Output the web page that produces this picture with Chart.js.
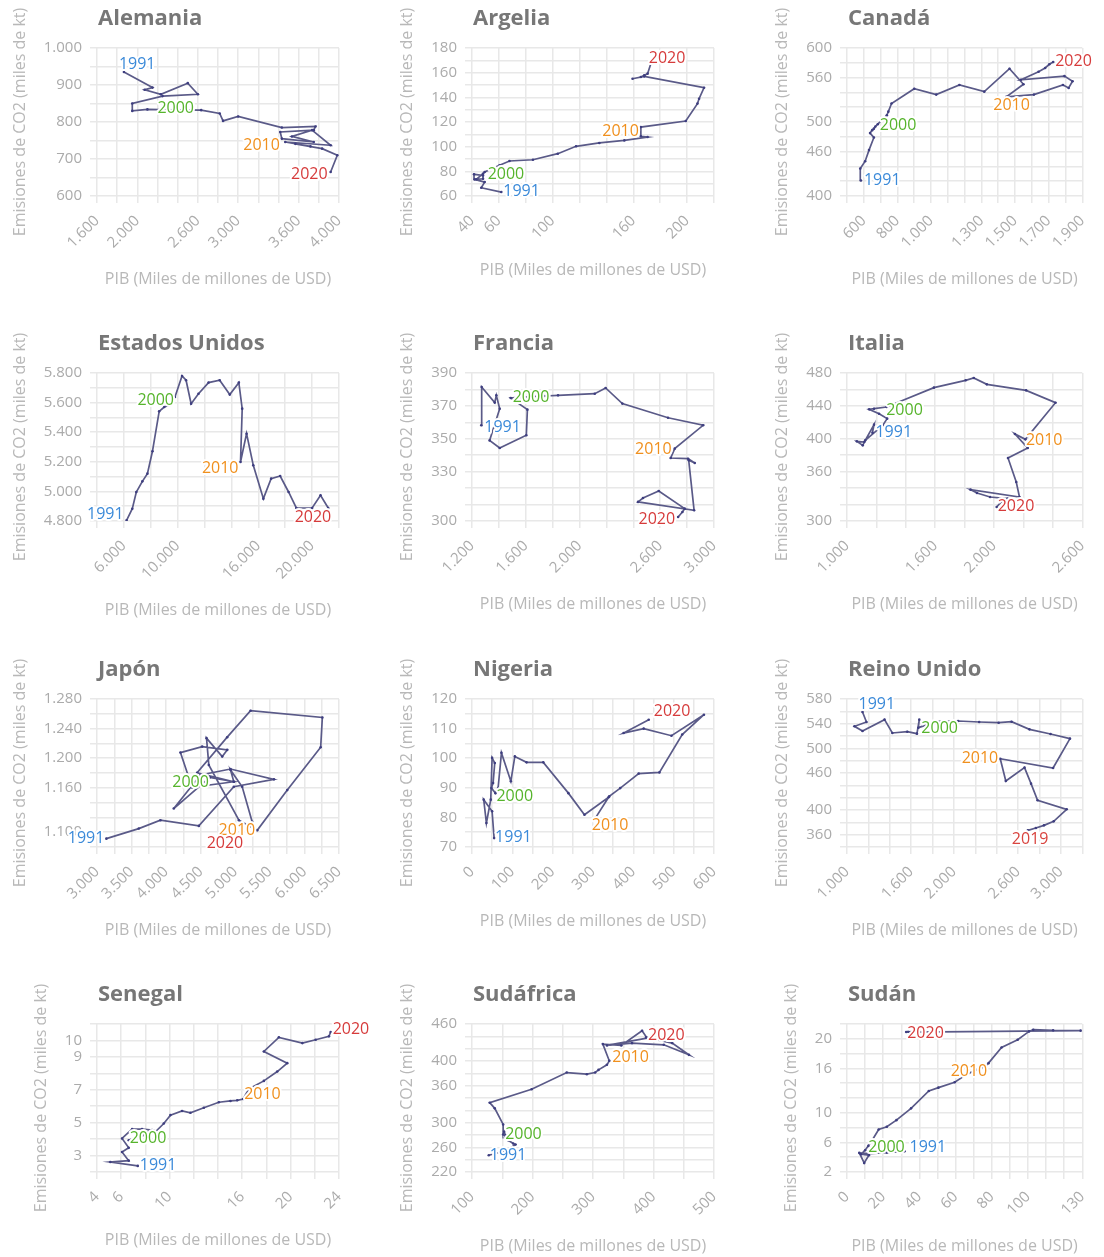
<!DOCTYPE html>
<html lang="es">
<head>
<meta charset="utf-8">
<title>Emisiones de CO2 y PIB</title>
<script src="https://cdn.jsdelivr.net/npm/chart.js@4.4.1/dist/chart.umd.min.js"></script>
<style>
  html, body { margin: 0; padding: 0; background: #fff; }
  #wrap { position: relative; width: 1104px; height: 1257px; overflow: hidden; }
  canvas { position: absolute; }
</style>
</head>
<body>
<div id="wrap"></div>
<script>
// años de la serie
var years = [1991, 1992, 1993, 1994, 1995, 1996, 1997, 1998, 1999, 2000,
             2001, 2002, 2003, 2004, 2005, 2006, 2007, 2008, 2009, 2010,
             2011, 2012, 2013, 2014, 2015, 2016, 2017, 2018, 2019, 2020];

// PIB (miles de millones de USD) y CO2 (miles de kt) por país
var pibAlemania = [1867, 2150, 2073, 2233, 2500, 2600, 2250, 1950, 1950, 2100, 2367, 2633, 2817, 2850, 3000, 3433, 3767, 3750, 3417, 3433, 3750, 3533, 3733, 3917, 3467, 3717, 3567, 3833, 3983, 3917];
var co2Alemania = [935, 893, 887, 875, 905, 875, 870, 850, 830, 834, 833, 832, 823, 803, 815, 785, 788, 778, 773, 755, 746, 761, 778, 737, 746, 734, 741, 728, 710, 665];

var pibArgelia = [61.8, 46.9, 49.4, 42, 41.5, 48.2, 48.2, 43.2, 48.2, 49.4, 60.5, 67.9, 85.3, 103.8, 117.4, 134.7, 153.3, 170.6, 165.6, 165.6, 199, 207.7, 208.9, 212.6, 168.1, 159.4, 165.6, 168.1, 170.6, 173];
var co2Argelia = [63.2, 66.7, 71.3, 73.5, 77.6, 76.7, 74, 73.5, 78.1, 79.4, 84.9, 88.4, 89.4, 94.3, 100.3, 103, 105.1, 107.8, 108.4, 115.9, 120.8, 134.9, 138.9, 147.8, 157, 155.1, 156.5, 157.8, 159.2, 167.3];

var pibCanada = [583, 579, 608, 631, 660, 637, 650, 660, 669, 683, 737, 746, 765, 900, 1031, 1169, 1317, 1467, 1550, 1448, 1612, 1785, 1819, 1842, 1794, 1535, 1640, 1679, 1704, 1727];
var co2Canada = [421, 437, 447, 462, 479, 485, 489, 491, 494, 497, 509, 514, 525, 545, 537, 550, 541, 572, 551, 534, 537, 550, 546, 555, 562, 557, 568, 573, 578, 581];

var pibEEUU = [6200, 6625, 6925, 7375, 7750, 8125, 8625, 9000, 9375, 9800, 10325, 10625, 11000, 11550, 12300, 13125, 13875, 14550, 14800, 14675, 15125, 15625, 16375, 16950, 17625, 18250, 18825, 20000, 20625, 21200];
var co2EEUU = [4805, 4883, 4996, 5068, 5120, 5271, 5541, 5570, 5582, 5638, 5780, 5751, 5593, 5660, 5735, 5751, 5654, 5735, 5559, 5199, 5390, 5176, 4951, 5086, 5104, 4996, 4888, 4888, 4974, 4888];

var pibFrancia = [1269, 1272, 1369, 1381, 1406, 1331, 1406, 1604, 1612, 1488, 1641, 1741, 1840, 2113, 2194, 2318, 2658, 2919, 2708, 2678, 2807, 2857, 2812, 2852, 2435, 2472, 2589, 2782, 2765, 2733];
var co2Francia = [358.2, 381.5, 372, 376.4, 368.3, 349, 344.4, 352.1, 367.7, 374.8, 375.6, 376, 376.4, 377.4, 380.9, 371.4, 362.8, 358.2, 344, 338.3, 337.9, 335.3, 336.9, 306.5, 311.6, 314, 318.2, 307.5, 305.5, 302.4];

var pibItalia = [1173, 1184, 1118, 1067, 1107, 1124, 1244, 1273, 1218, 1151, 1184, 1269, 1591, 1807, 1862, 1951, 2218, 2418, 2213, 2142, 2229, 2095, 2151, 2173, 1840, 1884, 1973, 2091, 2051, 2018];
var co2Italia = [407.4, 417.2, 396.1, 396.9, 392, 398.1, 416.4, 424.5, 430.5, 435.8, 436.6, 438.6, 462.2, 471.1, 473.9, 466.2, 458.9, 443.9, 399.3, 405.8, 388.8, 376.6, 347.4, 329.2, 338.1, 334.1, 329.2, 327.2, 323.9, 317];

var pibJapon = [3135, 3604, 3917, 4473, 4979, 5559, 4931, 4497, 4110, 4632, 4979, 4376, 4207, 4521, 4883, 4811, 4584, 4617, 5052, 5317, 5752, 6235, 6259, 5221, 4883, 4448, 4979, 4931, 5100, 5245];
var co2Japon = [1091.3, 1104.9, 1116.2, 1108.5, 1161.4, 1171.4, 1185.4, 1177.3, 1132, 1174.1, 1168.2, 1160.5, 1207.6, 1215.7, 1211.2, 1202.2, 1227.1, 1190.9, 1116.2, 1102.6, 1156.9, 1214.8, 1255.1, 1264.2, 1228.4, 1180.4, 1168.2, 1184.1, 1161.4, 1113.9];

var pibNigeria = [54.8, 49.8, 29, 35.7, 46.5, 49.8, 56.4, 52.3, 48.1, 58.1, 64.7, 73, 96.3, 106.2, 135.3, 176.8, 239, 278.8, 338.6, 307, 340.3, 367.6, 413.3, 464.7, 521.2, 575.1, 494.6, 425.7, 376, 438.2];
var co2Nigeria = [73, 82.1, 86, 78.1, 86, 100.1, 98.4, 91.6, 89.9, 88.2, 89.9, 101.8, 92.2, 100.6, 98.6, 98.6, 88.2, 80.9, 86.8, 80, 87.1, 89.9, 94.8, 95.2, 108, 114.7, 107.6, 110, 108.5, 113];

// Reino Unido: la serie termina en 2019
var pibReinoUnido = [1145, 1182, 1070, 1145, 1351, 1424, 1564, 1654, 1676, 1667, 1842, 2039, 2236, 2418, 2539, 2706, 2903, 3085, 2927, 2433, 2485, 2660, 2721, 2782, 3054, 2933, 2842, 2766, 2691];
var co2ReinoUnido = [558.9, 542.7, 535.7, 528.1, 546.5, 524.9, 527, 523.8, 546.5, 533.5, 543.8, 544.3, 542.7, 541.6, 543.2, 530.8, 523.2, 515.7, 468.1, 483.2, 447, 468.7, 442.7, 415.7, 401.1, 381.6, 375.1, 370.8, 367];

var pibSenegal = [7.37, 5.1, 6.62, 6.07, 6.62, 6.07, 6.9, 7.72, 8.55, 6.62, 8.83, 9.52, 10.07, 11.03, 11.72, 12.83, 14.07, 15.03, 15.59, 16.08, 16.55, 17.79, 18.9, 19.72, 17.79, 19.03, 20.97, 22.07, 23.17, 23.31];
var co2Senegal = [2.37, 2.61, 2.69, 3.22, 3.47, 4.04, 4.61, 4.61, 4.55, 3.93, 4.44, 4.95, 5.46, 5.71, 5.6, 5.91, 6.24, 6.32, 6.36, 6.44, 7.05, 7.54, 8.11, 8.62, 9.33, 10.19, 9.84, 10.04, 10.25, 10.51];

var pibSudafrica = [127.7, 148.7, 162.5, 171.9, 168.1, 159.8, 154.2, 155.3, 153.1, 151.5, 151.5, 137.6, 129.3, 198.5, 256.6, 289.8, 303.6, 309.1, 323, 326.9, 316.3, 346.8, 381.1, 389.4, 323, 364.5, 417, 458.5, 430.9, 387.7];
var co2Sudafrica = [247.1, 252.6, 258, 264.5, 266.1, 271.6, 275.4, 279.7, 285.2, 280.8, 297.1, 323.2, 332.4, 354.1, 381.3, 378.6, 381.3, 385.6, 393.8, 400.3, 427.4, 425.2, 449.1, 437.2, 425.2, 429, 426.3, 410, 429, 438.3];

var pibSudan = [31.8, 22, 12.1, 6.8, 9.5, 12.1, 7.7, 10, 11.8, 13.9, 17.5, 22, 27.3, 35.4, 45.2, 50.5, 59.5, 65.7, 71.1, 76.4, 78.2, 85.4, 94.3, 100.6, 102.9, 113.9, 129.1, 35.4, 33.9, 32.7];
var co2Sudan = [4.8, 4.62, 4.49, 4.58, 3.22, 4.26, 4.4, 4.94, 5.53, 6.3, 7.75, 8.11, 9.01, 10.6, 12.95, 13.4, 14.13, 15.12, 15.8, 16.25, 16.71, 18.83, 19.87, 21, 21.23, 21.14, 21.1, 20.91, 20.96, 20.91];

// etiquetas de los ejes
var xTicksAlemania = [1600, 2000, 2600, 3000, 3600, 4000];
var yTicksAlemania = [600, 700, 800, 900, 1000];
var xTicksArgelia = [40, 60, 100, 160, 200];
var yTicksArgelia = [60, 80, 100, 120, 140, 160, 180];
var xTicksCanada = [600, 800, 1000, 1300, 1500, 1700, 1900];
var yTicksCanada = [400, 460, 500, 560, 600];
var xTicksEEUU = [6000, 10000, 16000, 20000];
var yTicksEEUU = [4800, 5000, 5200, 5400, 5600, 5800];
var xTicksFrancia = [1200, 1600, 2000, 2600, 3000];
var yTicksFrancia = [300, 330, 350, 370, 390];
var xTicksItalia = [1000, 1600, 2000, 2600];
var yTicksItalia = [300, 360, 400, 440, 480];
var xTicksJapon = [3000, 3500, 4000, 4500, 5000, 5500, 6000, 6500];
var yTicksJapon = [1100, 1160, 1200, 1240, 1280];
var xTicksNigeria = [0, 100, 200, 300, 400, 500, 600];
var yTicksNigeria = [70, 80, 90, 100, 110, 120];
var xTicksReinoUnido = [1000, 1600, 2000, 2600, 3000];
var yTicksReinoUnido = [360, 400, 460, 500, 540, 580];
var xTicksSenegal = [4, 6, 10, 16, 20, 24];
var yTicksSenegal = [3, 5, 7, 9, 10];
var xTicksSudafrica = [100, 200, 300, 400, 500];
var yTicksSudafrica = [220, 260, 300, 360, 400, 460];
var xTicksSudan = [0, 20, 40, 60, 80, 100, 130];
var yTicksSudan = [2, 6, 10, 16, 20];

var yearColors = { 1991: '#3b8ad9', 2000: '#56b42c', 2010: '#f0901e', 2019: '#d9443f', 2020: '#d63b3b' };
var LINE = '#5a5a88', DOT = '#3e3e80', GRID = '#e8e8e8', TICK = '#ababab', AXT = '#b8b8b8';
var rowTops = [0, 325, 651, 976];

// notas: [año, dx, dy, alineación]
var panels = [
  { name: 'Alemania', pib: pibAlemania, co2: co2Alemania, xr: [1600, 4000, 200], yr: [600, 1000, 50], xl: xTicksAlemania, yl: yTicksAlemania,
    notes: [[1991, -5, -8, 'left'], [2000, 10, -1, 'left'], [2010, -2, 7, 'right'], [2020, -3, 2, 'right']] },
  { name: 'Argelia', pib: pibArgelia, co2: co2Argelia, xr: [40, 220, 20], yr: [60, 180, 10], xl: xTicksArgelia, yl: yTicksArgelia,
    notes: [[1991, 2, -1, 'left'], [2000, 3, 2, 'left'], [2010, -2, 4, 'right'], [2020, -2, -5, 'left']] },
  { name: 'Canadá', pib: pibCanada, co2: co2Canada, xr: [500, 1900, 100], yr: [400, 600, 20], xl: xTicksCanada, yl: yTicksCanada,
    notes: [[1991, 3, 0, 'left'], [2000, 2, 1, 'left'], [2010, -13, 9, 'left'], [2020, 2, -1, 'left']] },
  { name: 'Estados Unidos', pib: pibEEUU, co2: co2EEUU, xr: [4000, 22000, 2000], yr: [4800, 5800, 100], xl: xTicksEEUU, yl: yTicksEEUU,
    notes: [[1991, -3, -6, 'right'], [2000, -1, 3, 'right'], [2010, -2, 6, 'right'], [2020, 3, 9, 'right']] },
  { name: 'Francia', pib: pibFrancia, co2: co2Francia, xr: [1200, 3000, 200], yr: [300, 390, 10], xl: xTicksFrancia, yl: yTicksFrancia,
    notes: [[1991, 3, 2, 'left'], [2000, 2, -1, 'left'], [2010, 1, -9, 'right'], [2020, -3, 2, 'right']] },
  { name: 'Italia', pib: pibItalia, co2: co2Italia, xr: [1000, 2600, 200], yr: [300, 480, 20], xl: xTicksItalia, yl: yTicksItalia,
    notes: [[1991, 3, 0, 'left'], [2000, 17, 1, 'left'], [2010, 11, 6, 'left'], [2020, 1, -1, 'left']] },
  { name: 'Japón', pib: pibJapon, co2: co2Japon, xr: [3000, 6500, 250], yr: [1080, 1280, 20], xl: xTicksJapon, yl: yTicksJapon,
    notes: [[1991, -2, 0, 'right'], [2000, -1, 5, 'right'], [2010, -2, 0, 'right'], [2020, -9, 22, 'right']] },
  { name: 'Nigeria', pib: pibNigeria, co2: co2Nigeria, xr: [0, 600, 50], yr: [70, 120, 5], xl: xTicksNigeria, yl: yTicksNigeria,
    notes: [[1991, 1, -1, 'left'], [2000, 1, 3, 'left'], [2010, -4, 8, 'left'], [2020, 5, -8, 'left']] },
  { name: 'Reino Unido', pib: pibReinoUnido, co2: co2ReinoUnido, xr: [1000, 3200, 200], yr: [340, 580, 20], xl: xTicksReinoUnido, yl: yTicksReinoUnido,
    notes: [[1991, -4, -8, 'left'], [2000, 3, 1, 'left'], [2010, -2, 0, 'right'], [2019, -16, 9, 'left']] },
  { name: 'Senegal', pib: pibSenegal, co2: co2Senegal, xr: [4, 24, 2], yr: [2, 11, 1], xl: xTicksSenegal, yl: yTicksSenegal,
    notes: [[1991, 2, 0, 'left'], [2000, 1, -2, 'left'], [2010, 1, -5, 'left'], [2020, 2, -3, 'left']] },
  { name: 'Sudáfrica', pib: pibSudafrica, co2: co2Sudafrica, xr: [100, 500, 50], yr: [220, 460, 20], xl: xTicksSudafrica, yl: yTicksSudafrica,
    notes: [[1991, 1, 0, 'left'], [2000, 2, 0, 'left'], [2010, 3, -3, 'left'], [2020, 2, -2, 'left']] },
  { name: 'Sudán', pib: pibSudan, co2: co2Sudan, xr: [0, 130, 10], yr: [2, 22, 2], xl: xTicksSudan, yl: yTicksSudan,
    notes: [[1991, 5, -4, 'left'], [2000, -4, 7, 'left'], [2010, 2, 5, 'right'], [2020, 1, 1, 'left']] }
];

Chart.defaults.font.family = "'Open Sans', sans-serif";

function fmt(v) {
  return String(Math.round(v)).replace(/\B(?=(\d{3})+(?!\d))/g, '.');
}

function hasLabel(list, v) {
  return list.some(function (l) { return Math.abs(l - v) < 1e-6; });
}

function gridTicks(r) {
  var out = [];
  for (var v = r[0]; v <= r[1] + 1e-9; v += r[2]) out.push({ value: +v.toFixed(6) });
  return out;
}

function decor(p) {
  return {
    id: 'decor',
    afterDatasetsDraw: function (chart) {
      var ctx = chart.ctx, xs = chart.scales.x, ys = chart.scales.y;
      ctx.save();
      ctx.font = '16px "Open Sans"';
      ctx.textBaseline = 'middle';
      ctx.lineJoin = 'round';
      p.notes.forEach(function (n) {
        var i = years.indexOf(n[0]);
        var px = xs.getPixelForValue(p.pib[i]) + n[1];
        var py = ys.getPixelForValue(p.co2[i]) + n[2];
        ctx.textAlign = n[3];
        ctx.strokeStyle = '#fff';
        ctx.lineWidth = 4;
        ctx.strokeText(String(n[0]), px, py);
        ctx.fillStyle = yearColors[n[0]];
        ctx.fillText(String(n[0]), px, py);
      });
      ctx.restore();
    },
    afterDraw: function (chart) {
      var ctx = chart.ctx, a = chart.chartArea;
      ctx.save();
      // título del panel
      ctx.font = 'bold 22px "Open Sans"';
      ctx.fillStyle = '#777777';
      ctx.textAlign = 'left';
      ctx.textBaseline = 'alphabetic';
      ctx.fillText(p.name, a.left + 1, 25);

      // títulos de los ejes, colocados según el ancho de las etiquetas
      ctx.font = '15px "Open Sans"';
      var wx = 0, wy = 0;
      p.xl.forEach(function (v) { wx = Math.max(wx, ctx.measureText(fmt(v)).width); });
      p.yl.forEach(function (v) { wy = Math.max(wy, ctx.measureText(fmt(v)).width); });
      ctx.font = '16px "Open Sans"';
      ctx.fillStyle = AXT;
      ctx.textAlign = 'center';
      ctx.textBaseline = 'middle';
      ctx.fillText('PIB (Miles de millones de USD)', (a.left + a.right) / 2, a.bottom + 56 + wx * 0.707);
      ctx.translate(a.left - 38.5 - wy, (a.top + a.bottom) / 2);
      ctx.rotate(-Math.PI / 2);
      ctx.fillText('Emisiones de CO2 (miles de kt)', 0, 0);
      ctx.restore();
    }
  };
}

function makeChart(p, idx) {
  var col = idx % 3, row = Math.floor(idx / 3);
  var W = col === 2 ? 354 : 375;
  var H = row === 3 ? 281 : 326;
  var canvas = document.createElement('canvas');
  canvas.width = W;
  canvas.height = H;
  canvas.style.left = (col * 375) + 'px';
  canvas.style.top = rowTops[row] + 'px';
  canvas.style.width = W + 'px';
  canvas.style.height = H + 'px';
  document.getElementById('wrap').appendChild(canvas);

  var pts = p.pib.map(function (v, i) { return { x: v, y: p.co2[i] }; });

  new Chart(canvas.getContext('2d'), {
    type: 'scatter',
    data: {
      datasets: [{
        data: pts,
        showLine: true,
        borderColor: LINE,
        borderWidth: 1.7,
        pointRadius: 1.3,
        pointBackgroundColor: DOT,
        pointBorderWidth: 0,
        pointHoverRadius: 0
      }]
    },
    options: {
      responsive: false,
      animation: false,
      devicePixelRatio: 1,
      events: [],
      layout: { padding: { top: 48, right: W - 339, left: 0, bottom: 0 } },
      plugins: { legend: { display: false }, tooltip: { enabled: false } },
      scales: {
        x: {
          type: 'linear',
          min: p.xr[0],
          max: p.xr[1],
          afterBuildTicks: function (s) { s.ticks = gridTicks(p.xr); },
          afterFit: function (s) { s.height = H - 196; },
          ticks: {
            autoSkip: false,
            minRotation: 45,
            maxRotation: 45,
            padding: 9,
            color: TICK,
            font: { size: 15 },
            callback: function (v) { return hasLabel(p.xl, v) ? fmt(v) : ''; }
          },
          grid: { color: GRID, lineWidth: 1.5, tickLength: 7 },
          border: { display: false }
        },
        y: {
          type: 'linear',
          min: p.yr[0],
          max: p.yr[1],
          afterBuildTicks: function (s) { s.ticks = gridTicks(p.yr); },
          afterFit: function (s) { s.width = 97; },
          ticks: {
            autoSkip: false,
            padding: 8,
            color: TICK,
            font: { size: 15 },
            callback: function (v) { return hasLabel(p.yl, v) ? fmt(v) : ''; }
          },
          grid: { color: GRID, lineWidth: 1.5, tickLength: 7 },
          border: { display: false }
        }
      }
    },
    plugins: [decor(p)]
  });
}

panels.forEach(makeChart);
</script>
</body>
</html>
